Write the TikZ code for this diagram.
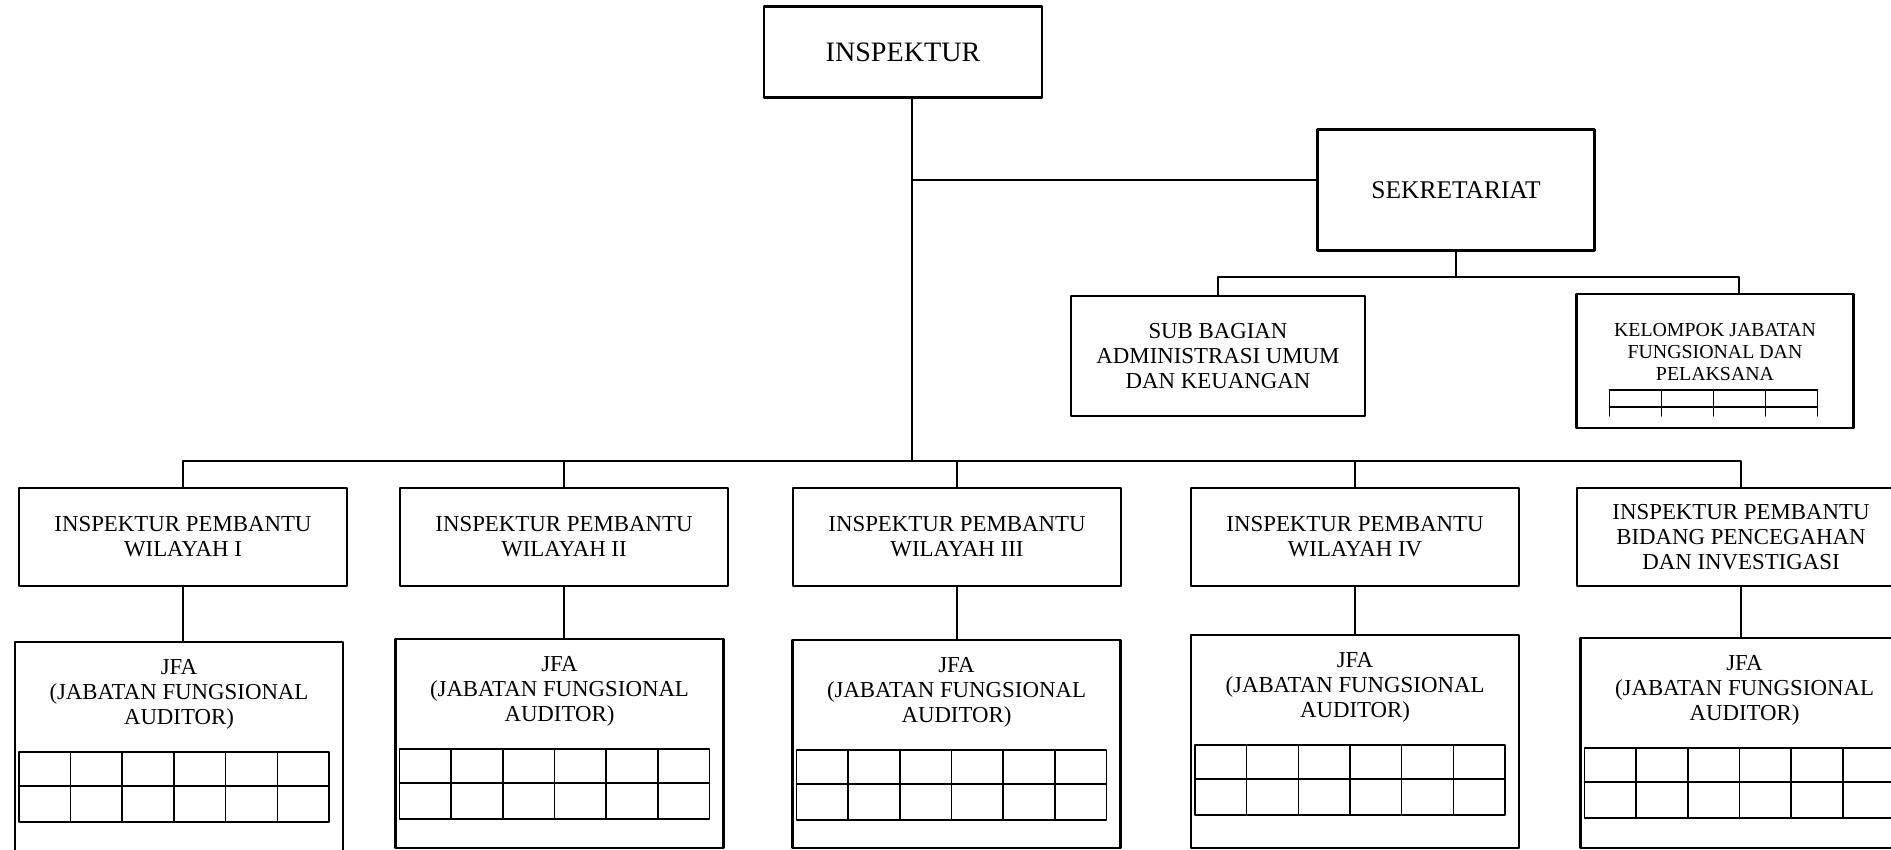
\documentclass[tikz,border=0pt]{standalone}
\usepackage{fontspec}
\setmainfont{Liberation Serif}
\usetikzlibrary{positioning}
\tikzset{
  orgbox/.style={draw, line width=1.2pt, inner sep=0pt, align=center},
  boxsize/.style 2 args={minimum width=#1*0.2mm, minimum height=#2*0.2mm},
  boxtext/.style={inner sep=0pt, align=center},
  link/.style={line width=1.1pt},
  gridline/.style={line width=0.9pt},
}
\begin{document}
\begin{tikzpicture}[x=0.2mm,y=-0.2mm,line join=round,line cap=round,font=\fontsize{13}{14.2}\selectfont]
	\useasboundingbox (0,0) rectangle (1891,850);
	\clip (0,0) rectangle (1891,850);
	\def\cw{51.67}
	% pimpinan dan sekretariat
	\node[orgbox, boxsize={278}{91}, font=\fontsize{16}{18}\selectfont] (insp) at (903,52) {INSPEKTUR};
	\node[orgbox, boxsize={277}{121}, font=\fontsize{14.5}{16}\selectfont] (sek) at (1456,190) {SEKRETARIAT};
	\node[orgbox, boxsize={294}{120}] (sub) at (1218,356) {SUB BAGIAN\\ADMINISTRASI UMUM\\DAN KEUANGAN};
	\node[orgbox, boxsize={277}{134}] (kel) at (1715,361) {};
	\node[boxtext, below=6mm of kel.north, font=\fontsize{11.3}{12.5}\selectfont] (kelt) {KELOMPOK JABATAN\\FUNGSIONAL DAN\\PELAKSANA};
	\begin{scope}[shift={(kel.north west)}]
		\draw[gridline] (34,97) -- (242,97) (34,114) -- (242,114);
		\foreach \c in {0,...,4}
			\draw[gridline] (34+\c*52,97) -- (34+\c*52,123);
	\end{scope}
	% inspektur pembantu
	\foreach \i/\x/\t in {1/183/{INSPEKTUR PEMBANTU\\WILAYAH I},
	                      2/564/{INSPEKTUR PEMBANTU\\WILAYAH II},
	                      3/957/{INSPEKTUR PEMBANTU\\WILAYAH III},
	                      4/1355/{INSPEKTUR PEMBANTU\\WILAYAH IV},
	                      5/1741/{INSPEKTUR PEMBANTU\\BIDANG PENCEGAHAN\\DAN INVESTIGASI}}
		\node[orgbox, boxsize={328}{98}] (ip\i) at (\x,537) {\t};
	% jabatan fungsional auditor
	\foreach \i/\x/\y/\h in {1/179/747.5/211, 2/559.5/743.5/209, 3/956.5/744/208, 4/1355/741.5/213, 5/1744.5/743/210}{
		\node[orgbox, boxsize={328}{\h}] (jfa\i) at (\x,\y) {};
		\node[boxtext, below=3.6mm of jfa\i.north] (jfat\i) {JFA\\(JABATAN FUNGSIONAL\\AUDITOR)};
		\begin{scope}[shift={(jfa\i.north west)}]
			\draw[gridline] (5,111) rectangle (315,181) (5,145) -- (315,145);
			\foreach \c in {1,...,5}
				\draw[gridline] (5+\c*\cw,111) -- (5+\c*\cw,181);
		\end{scope}
	}
	% garis komando
	\coordinate (bus) at (912,461);
	\draw[link] (insp.south -| bus) -- (bus);
	\coordinate (sekin) at ([yshift=2mm]sek.west);
	\draw[link] (sekin) -- (sekin -| bus);
	\draw[link] (sek.south) -- ++(0,25) coordinate (sbus);
	\draw[link] (sub.north) |- (sbus) -| ([xshift=4.8mm]kel.north);
	\draw[link] (ip1.north) |- (bus) -| (ip5.north);
	\foreach \i in {2,3,4}
		\draw[link] (ip\i.north) -- (ip\i.north |- bus);
	\foreach \i in {1,...,5}
		\draw[link] (ip\i.south) -- (ip\i.south |- jfa\i.north);
\end{tikzpicture}
\end{document}
